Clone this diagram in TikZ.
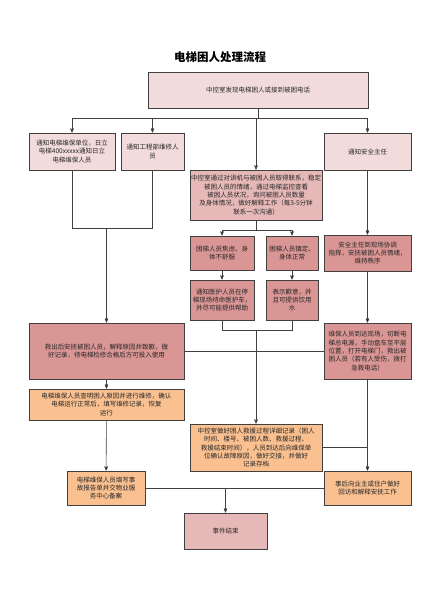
\documentclass[tikz,border=0pt]{standalone}
\usepackage{fontspec}
\setmainfont{Noto Sans CJK SC}
\usetikzlibrary{arrows,positioning}
\definecolor{palepink}{HTML}{F2DCDB}
\definecolor{rose}{HTML}{E6B9B8}
\definecolor{deeprose}{HTML}{D99694}
\definecolor{peach}{HTML}{FAC090}
\definecolor{edgegray}{HTML}{404040}
\tikzset{
  block/.style={align=center,rectangle,draw=edgegray,line width=1pt,inner sep=1pt,
    text=black!85,font=\fontsize{6.5}{8.3}\selectfont},
  light/.style={block,fill=palepink},
  mid/.style={block,fill=rose},
  dark/.style={block,fill=deeprose},
  warm/.style={block,fill=peach},
  link/.style={draw=edgegray,line width=0.6pt}
}
\begin{document}
\begin{tikzpicture}[x=1pt,y=-1pt,>=stealth']
    \useasboundingbox[fill=white] (0,0) rectangle (424,600);
    \node at (220, 57) (title) {\fontsize{11.5}{13}\selectfont\bfseries 电梯困人处理流程};
    \node at (258, 90) [light, minimum width=220, minimum height=36] (call) {中控室发现电梯困人或接到被困电话};

    % second row
    \node at (72, 151.5) [light, minimum width=86, minimum height=37] (maint) {通知电梯维保单位，日立\\电梯400xxxxx通知日立\\电梯维保人员};
    \node at (152.5, 151.5) [light, minimum width=63, minimum height=37] (eng) {通知工程部维修人\\员};
    \node at (256, 195) [mid, minimum width=132, minimum height=50] (talk) {中控室通过对讲机与被困人员取得联系，稳定\\被困人员的情绪，通过电梯监控查看\\被困人员状况，询问被困人员数量\\及身体情况，做好解释工作（每3-5分钟\\联系一次沟通）};
    \node at (367.5, 151.5) [light, minimum width=87, minimum height=37] (safety) {通知安全主任};

    % middle column
    \node at (222, 253) [dark, minimum width=64, minimum height=34] (upset) {困梯人员焦虑、身\\体不舒服};
    \node at (292, 253) [dark, minimum width=52, minimum height=34] (calm) {困梯人员镇定、\\身体正常};
    \node at (222, 300) [dark, minimum width=64, minimum height=40] (medic) {通知医护人员在停\\梯现场待命医护车，\\并尽可能提供帮助};
    \node at (292, 300) [dark, minimum width=52, minimum height=40] (sorry) {表示歉意，并\\且可提供饮用\\水};

    % right column
    \node at (367.5, 253) [dark, minimum width=87, minimum height=36] (order) {安全主任到现场协调\\指挥，安抚被困人员情绪，\\维持秩序};
    \node at (367.5, 351) [dark, minimum width=87, minimum height=56] (rescue) {维保人员到达现场，切断电\\梯总电源，手动盘车至平层\\位置，打开电梯门，救出被\\困人员（若有人受伤，拨打\\急救电话）};
    \node at (367.5, 488) [warm, minimum width=87, minimum height=34] (visit) {事后向业主或住户做好\\回访和解释安抚工作};

    % left column
    \node at (106.5, 351) [dark, minimum width=155, minimum height=56] (comfort) {救出后安抚被困人员，解释原因并致歉，做\\好记录，待电梯检修合格后方可投入使用};
    \node at (106.5, 404.5) [warm, minimum width=155, minimum height=31] (repair) {电梯维保人员查明困人原因并进行维修，确认\\电梯运行正常后，填写维修记录，恢复\\运行};
    \node at (106, 488) [warm, minimum width=78, minimum height=34] (report) {电梯维保人员填写事\\故报告单并交物业服\\务中心备案};

    \node at (256, 447.5) [warm, minimum width=132, minimum height=47] (log) {中控室做好困人救援过程详细记录（困人\\时间、楼号、被困人数、救援过程、\\救援结束时间），人员到达后向维保单\\位确认故障原因，做好交接，并做好\\记录存档};
    \node at (225.5, 531) [mid, minimum width=83, minimum height=36] (done) {事件结束};

    \coordinate (split) at (258, 118);
    \coordinate (lmerge) at (106.5, 228);
    \coordinate (msplit) at (256, 230);
    \coordinate (cmerge) at (256, 330);
    \coordinate (emerge) at (225.5, 488);

    \draw[link] (call.south) -- (split);
    \draw[link,->] (split) -| (maint.north);
    \draw[link,->] (split) -| (eng.north);
    \draw[link,->] (split) -| (talk.north);
    \draw[link,->] (split) -| (safety.north);

    \draw[link] (maint.south) |- (lmerge);
    \draw[link] (eng.south) |- (lmerge);
    \draw[link,->] (lmerge) -- (comfort.north);

    \draw[link] (talk.south) -- (msplit);
    \draw[link,->] (msplit) -| (upset.north);
    \draw[link,->] (msplit) -| (calm.north);
    \path[link,->]
    (upset) edge (medic)
    (calm) edge (sorry);
    \draw[link] (medic.south) |- (cmerge);
    \draw[link] (sorry.south) |- (cmerge);
    \draw[link,->] (cmerge) -- (log.north);

    \path[link,->]
    (safety) edge (order)
    (order) edge (rescue)
    (rescue) edge (visit)
    (comfort) edge (repair)
    (repair) edge (report);
    \draw[link] (rescue.west) -- (comfort.east);
    \draw[link] (log.east) -- (log.east -| rescue.south);

    \draw[link] (report.east) -- (visit.west);
    \draw[link,->] (emerge) -- (done.north);
\end{tikzpicture}
\end{document}
